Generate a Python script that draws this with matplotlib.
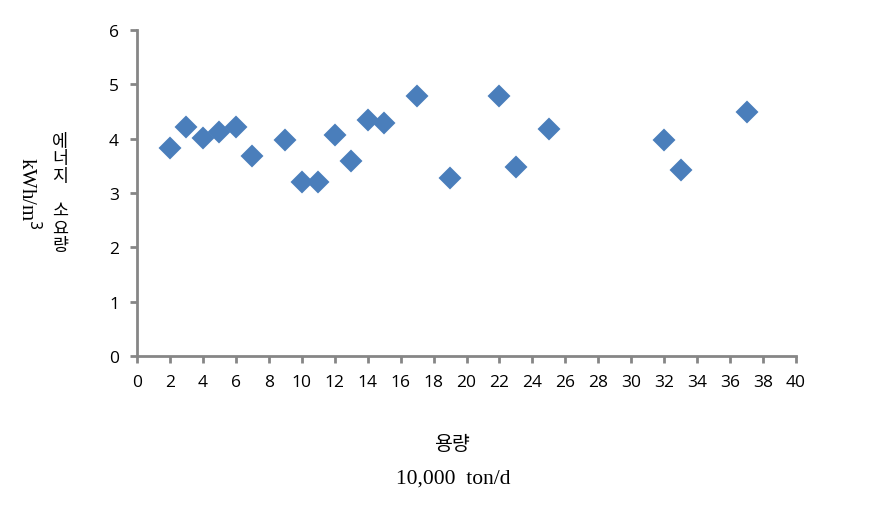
import matplotlib
matplotlib.use("Agg")
import matplotlib.pyplot as plt

# capacity (10,000 ton/d) and energy use (kWh/m3)
capacity = [2, 3, 4, 5, 6, 7, 9, 10, 11, 12, 13, 14, 15, 17, 19, 22, 23, 25, 32, 33, 37]
energy = [3.82, 4.22, 4.01, 4.13, 4.21, 3.69, 3.98, 3.21, 3.21, 4.06, 3.58,
          4.35, 4.28, 4.78, 3.28, 4.78, 3.48, 4.18, 3.98, 3.43, 4.49]

x_ticks = list(range(0, 41, 2))
y_ticks = list(range(0, 7))

blue = '#4A7EBB'
grey = '#868686'

fig = plt.figure(figsize=(8.72, 5.06), dpi=100)
ax = fig.add_axes([137 / 872, 1 - 357 / 506, (796 - 137) / 872, (357 - 31) / 506])

ax.plot(capacity, energy, linestyle='none', marker='D', markersize=10,
        color=blue, markeredgecolor=blue, markeredgewidth=1.5,
        solid_joinstyle='round', clip_on=False)

ax.set_xlim(0, 40)
ax.set_ylim(0, 6)
ax.set_xticks(x_ticks)
ax.set_yticks(y_ticks)

for side in ['top', 'right']:
    ax.spines[side].set_visible(False)
for side in ['left', 'bottom']:
    ax.spines[side].set_color(grey)
    ax.spines[side].set_linewidth(2)

ax.tick_params(direction='out', length=5, width=2, color=grey,
               labelsize=12.5, labelcolor='black', pad=8)
for lab in ax.get_xticklabels() + ax.get_yticklabels():
    lab.set_fontfamily('Open Sans')

# y axis titles
fig.text(60 / 872, 1 - 194 / 506, '에\n너\n지\n\n소\n요\n량', ha='center', va='center',
         family=['Noto Sans CJK KR', 'DejaVu Sans'], fontsize=12.5, linespacing=0.95)
fig.text(28 / 872, 1 - 193 / 506, 'kWh/m$^3$', ha='center', va='center', rotation=-90,
         family='Liberation Serif', fontsize=15)

# x axis titles
fig.text(452 / 872, 1 - 444 / 506, '용량', ha='center', va='center',
         family=['Noto Sans CJK KR', 'DejaVu Sans'], fontsize=14)
fig.text(453 / 872, 1 - 479 / 506, '10,000  ton/d', ha='center', va='center',
         family='Liberation Serif', fontsize=15.5)

fig.savefig('out.png', dpi=100)
